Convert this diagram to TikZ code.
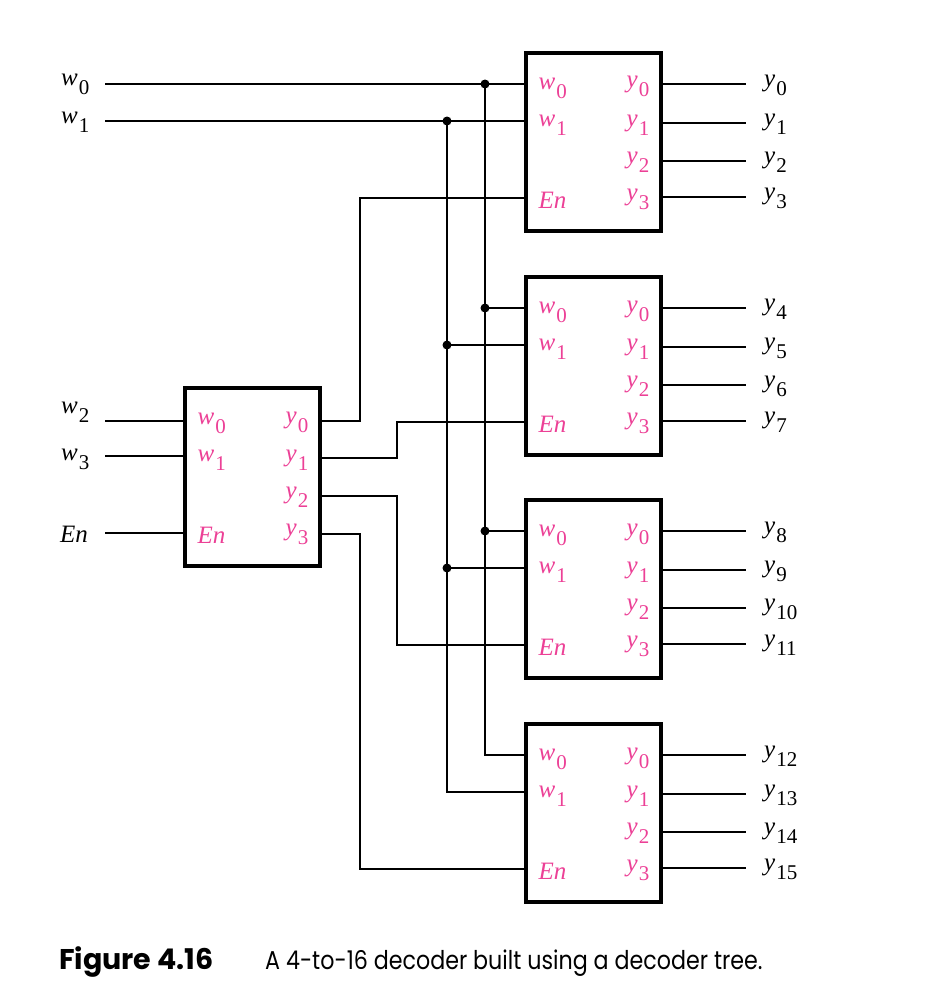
\documentclass[tikz,border=0pt]{standalone}
\usepackage{fontspec}
\usepackage{xcolor}
\setmainfont{Liberation Serif}
\newfontfamily\capfont[FakeStretch=0.86]{Poppins}
\usetikzlibrary{calc, positioning}
\definecolor{pinpink}{RGB}{236,64,150}
\tikzset{
	wire/.style={line width=2pt},
	decbox/.style={draw, line width=4pt, minimum width=135pt, minimum height=178pt, inner sep=0pt},
	junc/.style={circle, fill=black, minimum size=9pt, inner sep=0pt},
	siglabel/.style={anchor=base west, inner sep=0pt, font=\fontsize{25}{25}\selectfont},
	pinlabel/.style={siglabel, text=pinpink},
	caplabel/.style={anchor=base west, inner sep=0pt, font=\capfont\fontsize{25.8}{26}\selectfont},
	capbold/.style={anchor=base west, inner sep=0pt, font=\fontspec{Poppins}\fontsize{28.5}{29}\selectfont\bfseries}
}
\newcommand{\sig}[2]{\textit{#1}\kern1pt\raisebox{-9pt}{\fontsize{21}{21}\selectfont #2}}
\newcommand{\decblock}[4]{
	\begin{scope}[shift={(#2,#3)}]
		\node[decbox] (#1) at (67.5,89) {};
		\coordinate (#1w0) at (0,31+#4);
		\coordinate (#1w1) at (0,68);
		\coordinate (#1En) at (0,145);
		\coordinate (#1y0) at (135,31+#4);
		\coordinate (#1y1) at (135,70);
		\coordinate (#1y2) at (135,108);
		\coordinate (#1y3) at (135,144+#4);
		\node[pinlabel] (#1lw0) at (12.5,36) {\sig{w}{0}};
		\node[pinlabel] (#1lw1) at (12.5,73) {\sig{w}{1}};
		\node[pinlabel] (#1lEn) at (12.5,155) {\textit{En}};
		\node[pinlabel] (#1ly0) at (100.5,35) {\sig{y}{0}};
		\node[pinlabel] (#1ly1) at (100.5,73) {\sig{y}{1}};
		\node[pinlabel] (#1ly2) at (100.5,110) {\sig{y}{2}};
		\node[pinlabel] (#1ly3) at (100.5,147) {\sig{y}{3}};
	\end{scope}
}

\begin{document}
\begin{tikzpicture}[x=1pt, y=-1pt]
	\useasboundingbox (0,0) rectangle (938,998);
	
	\decblock{dec0}{185}{388}{2}
	\decblock{dec1}{526}{53}{0}
	\decblock{dec2}{526}{277}{0}
	\decblock{dec3}{526}{500}{0}
	\decblock{dec4}{526}{724}{0}
	
	\coordinate (inw0) at ($(dec1w0)+(-421,0)$);
	\coordinate (inw1) at ($(dec1w1)+(-421,0)$);
	\coordinate (inw2) at ($(dec0w0)+(-80,0)$);
	\coordinate (inw3) at ($(dec0w1)+(-80,0)$);
	\coordinate (inEn) at ($(dec0En)+(-80,0)$);
	
	\node[siglabel] (lw0) at (61,85) {\sig{w}{0}};
	\node[siglabel] (lw1) at (61,123) {\sig{w}{1}};
	\node[siglabel] (lw2) at (61,413) {\sig{w}{2}};
	\node[siglabel] (lw3) at (61,460) {\sig{w}{3}};
	\node[siglabel] (lEn) at (60,542) {\textit{En}};
	
	\node[junc] (ja1) at (485,84) {};
	\node[junc] (jb1) at (447,121) {};
	\node[junc] (ja2) at (ja1 |- dec2w0) {};
	\node[junc] (jb2) at (jb1 |- dec2w1) {};
	\node[junc] (ja3) at (ja1 |- dec3w0) {};
	\node[junc] (jb3) at (jb1 |- dec3w1) {};
	
	\draw[wire] (inw0) -- (dec1w0);
	\draw[wire] (inw1) -- (dec1w1);
	\draw[wire] (inw2) -- (dec0w0);
	\draw[wire] (inw3) -- (dec0w1);
	\draw[wire] (inEn) -- (dec0En);
	
	\draw[wire] (ja1.center) |- (dec4w0);
	\draw[wire] (jb1.center) |- (dec4w1);
	\draw[wire] (ja2.center) -- (dec2w0);
	\draw[wire] (jb2.center) -- (dec2w1);
	\draw[wire] (ja3.center) -- (dec3w0);
	\draw[wire] (jb3.center) -- (dec3w1);
	
	\draw[wire] (dec0y0) -- ++(40,0) |- (dec1En);
	\draw[wire] (dec0y1) -- ++(77,0) |- (dec2En);
	\draw[wire] (dec0y2) -- ++(77,0) |- (dec3En);
	\draw[wire] (dec0y3) -- ++(40,0) |- (dec4En);
	
	\foreach \blk [count=\idx from 0] in {dec1,dec2,dec3,dec4}
		\foreach \pin in {0,1,2,3} {
			\pgfmathtruncatemacro{\num}{4*\idx+\pin}
			\draw[wire] (\blk y\pin) -- ++(85,0) coordinate (oe\num);
			\node[siglabel] (oy\num) at ($(oe\num)+(18,2)$) {\sig{y}{\num}};
		}
	
	\node[capbold] (capnum) at (59,969) {Figure 4.16};
	\node[caplabel] (captxt) at (265,969) {A 4-to-16 decoder built using a decoder tree.};
\end{tikzpicture}
\end{document}
